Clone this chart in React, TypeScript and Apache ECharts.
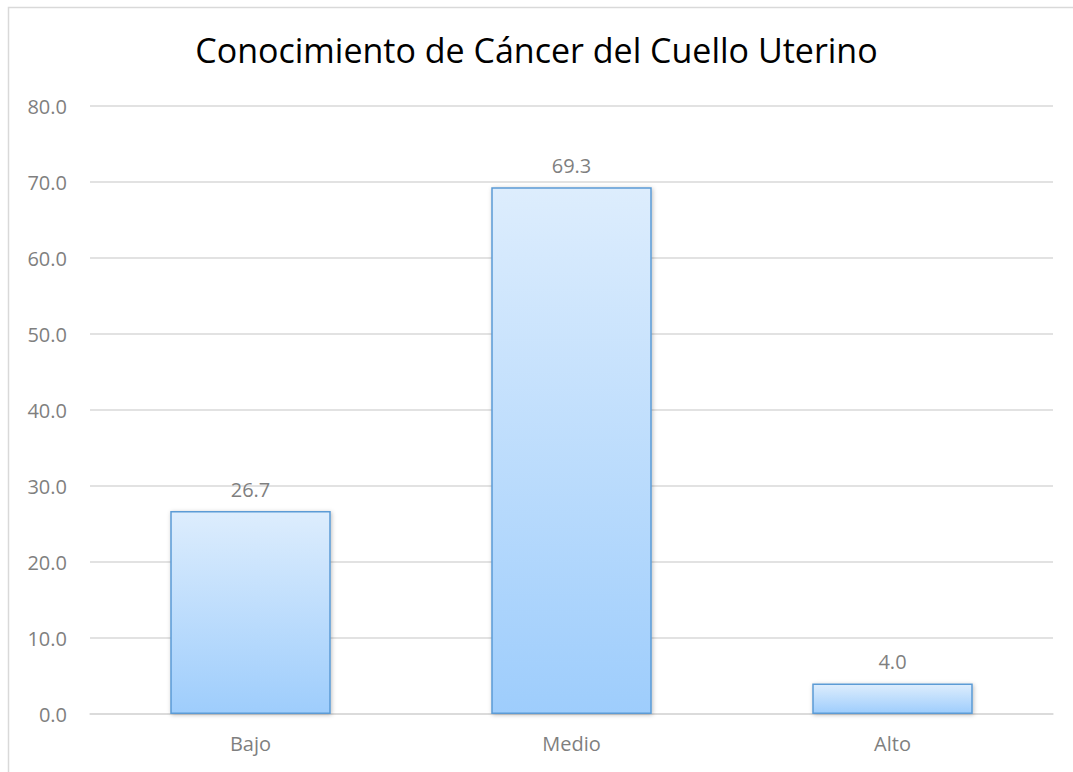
import React, { useEffect, useRef } from "react";
import * as echarts from "echarts";

const categories = ["Bajo", "Medio", "Alto"];
const values = [26.7, 69.3, 4.0];
const title = "Conocimiento de Cáncer del Cuello Uterino";

export default function App() {
  const ref = useRef<HTMLDivElement>(null);
  useEffect(() => {
    if (!ref.current) return;
    const chart = echarts.init(ref.current, null, { renderer: "svg" });
    chart.setOption({
      animation: false,
      backgroundColor: "#ffffff",
      title: {
        text: title,
        left: "center",
        top: 28,
        textStyle: { fontFamily: "Open Sans", fontSize: 34, fontWeight: "normal", color: "#000000" },
      },
      graphic: [
        {
          type: "rect",
          shape: { x: 8.5, y: 7.5, width: 1100, height: 800 },
          style: { fill: "none", stroke: "#d9d9d9", lineWidth: 1.5 },
          silent: true,
        },
      ],
      grid: { left: 90, right: 20, top: 106, bottom: 58 },
      xAxis: {
        type: "category",
        data: categories,
        axisLine: { show: true, lineStyle: { color: "#d9d9d9", width: 1.5 } },
        axisTick: { show: false },
        axisLabel: { color: "#7f7f7f", fontSize: 20, fontFamily: "Open Sans", margin: 19 },
      },
      yAxis: {
        type: "value",
        min: 0,
        max: 80,
        interval: 10,
        axisLine: { show: false },
        axisTick: { show: false },
        splitLine: { lineStyle: { color: "#d9d9d9", width: 1.5 } },
        axisLabel: {
          color: "#7f7f7f",
          fontSize: 20,
          fontFamily: "Open Sans",
          margin: 23,
          formatter: (v: number) => v.toFixed(1),
        },
      },
      series: [
        {
          type: "bar",
          data: values,
          barWidth: "50%",
          itemStyle: {
            color: new echarts.graphic.LinearGradient(0, 0, 0, 1, [
              { offset: 0, color: "#ddedfd" },
              { offset: 1, color: "#9ecdfc" },
            ]),
            borderColor: "#5b9bd5",
            borderWidth: 1.5,
            shadowColor: "rgba(0,0,0,0.25)",
            shadowBlur: 4,
            shadowOffsetX: 1,
            shadowOffsetY: 1,
          },
          label: {
            show: true,
            position: "top",
            distance: 12,
            color: "#7f7f7f",
            fontSize: 20,
            fontFamily: "Open Sans",
            formatter: (p: any) => Number(p.value).toFixed(1),
          },
        },
      ],
    });
    return () => chart.dispose();
  }, []);
  return (
    <div
      ref={ref}
      style={{ position: "fixed", left: 0, top: 0, width: 1073, height: 772 }}
    />
  );
}
